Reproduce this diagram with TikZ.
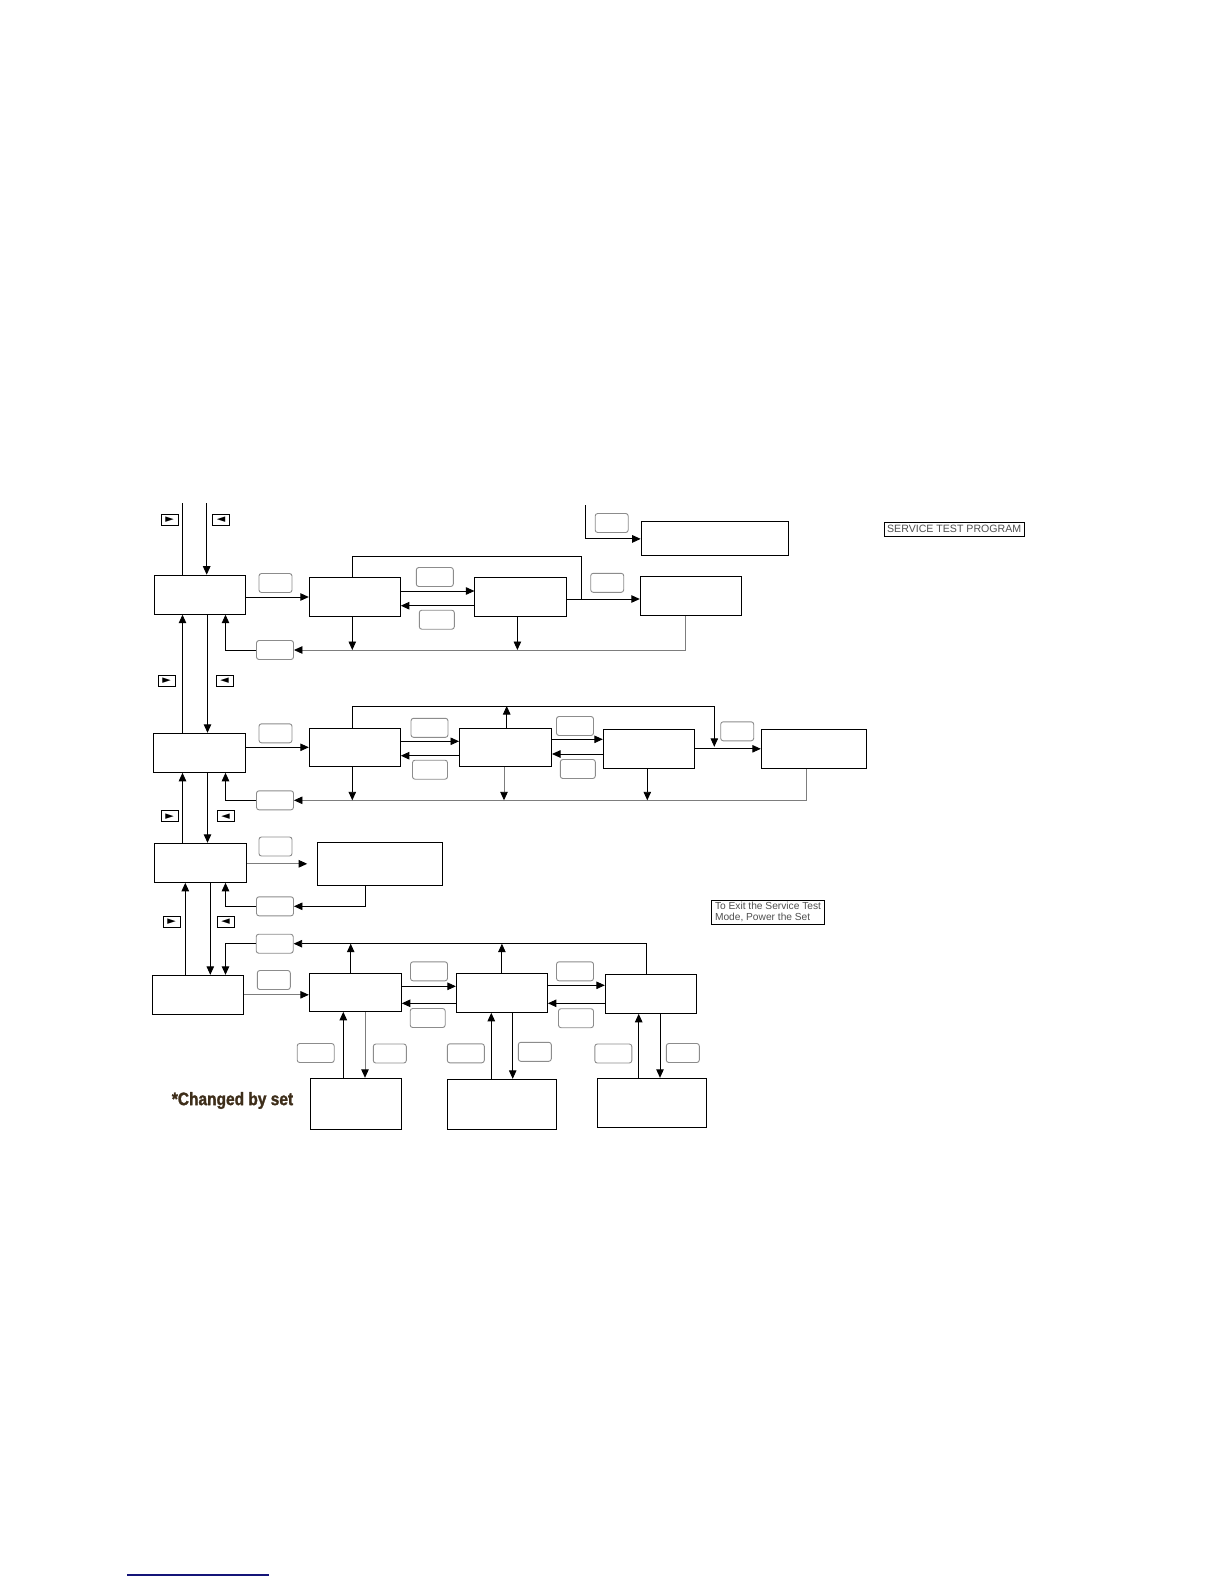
\documentclass[tikz,border=0pt]{standalone}
\usepackage{fontspec}
\setmainfont{Liberation Sans}
\newfontfamily\symfont{DejaVu Sans}
\newfontfamily\stampfont[FakeStretch=0.86,FakeBold=1.5]{Liberation Sans}
\usetikzlibrary{arrows.meta,positioning,calc}
\definecolor{keygray}{RGB}{140,140,140}
\definecolor{linegray}{RGB}{125,125,125}
\definecolor{notegray}{RGB}{80,80,80}
\definecolor{stampbrown}{RGB}{62,46,26}
\definecolor{rulenavy}{RGB}{20,20,120}

\begin{document}
\begin{tikzpicture}[x=1pt,y=-1pt,
  screen/.style={draw=black,line width=1pt,minimum width=91pt,minimum height=39pt,inner sep=0pt},
  keycap/.style={draw=keygray,line width=0.9pt,rounded corners=2.5pt,
                 minimum width=35pt,minimum height=19pt,inner sep=0pt},
  navkey/.style={draw=black,line width=0.9pt,minimum width=17pt,minimum height=11pt,
                 inner sep=0pt,font=\symfont\fontsize{11}{11}\selectfont},
  arr/.style={-{Triangle[length=8.5pt,width=7.5pt]},line width=0.9pt},
  plain/.style={line width=0.9pt},
  grayarr/.style={-{Triangle[length=8.5pt,width=7.5pt,color=black]},draw=linegray,line width=0.9pt},
  grayline/.style={draw=linegray,line width=0.9pt}
]
\fill[white] (0,0) rectangle (1224,1584);
\useasboundingbox (0,0) rectangle (1224,1584);

% screens
\node[screen] (a1) at (199.5,594.7) {};
\node[screen] (b1) at (354.8,597) {};
\node[screen,minimum width=92pt] (c1) at (520.9,597) {};
\node[screen,minimum width=101pt,minimum height=38.5pt] (d1) at (690.8,596) {};
\node[screen,minimum width=147pt,minimum height=34pt] (e1) at (714.7,538.9) {};

\node[screen,minimum width=92pt] (a2) at (199.5,752.8) {};
\node[screen,minimum height=38pt] (b2) at (354.8,747.3) {};
\node[screen,minimum width=92pt,minimum height=38pt] (c2) at (505.5,747.3) {};
\node[screen] (d2) at (648.8,748.8) {};
\node[screen,minimum width=105pt] (e2) at (813.8,748.8) {};

\node[screen,minimum width=92pt] (a3) at (200.5,862.8) {};
\node[screen,minimum width=125pt,minimum height=43pt] (b3) at (379.8,863.8) {};

\node[screen] (a4) at (197.8,994.8) {};
\node[screen,minimum width=92pt,minimum height=38pt] (b4) at (355.3,992.3) {};
\node[screen] (c4) at (501.9,992.8) {};
\node[screen] (d4) at (650.8,993.8) {};
\node[screen,minimum height=51pt] (f4) at (355.8,1103.8) {};
\node[screen,minimum width=109pt,minimum height=50pt] (g4) at (502,1104.3) {};
\node[screen,minimum width=109pt,minimum height=49pt] (h4) at (651.8,1102.8) {};

% keys
\node[keycap,minimum width=33pt] (k1in) at (275.5,583) {};
\node[keycap,minimum width=37pt] (k1fw) at (434.8,577) {};
\node[keycap] (k1bk) at (436.8,619.7) {};
\node[keycap,minimum width=33pt] (k1nx) at (607.2,582.8) {};
\node[keycap,minimum width=37pt] (k1rt) at (275,650) {};
\node[keycap,minimum width=33pt] (k1ex) at (611.7,523) {};

\node[keycap,minimum width=33pt] (k2in) at (275.5,733.3) {};
\node[keycap,minimum width=37pt] (k2fw) at (429.5,727.8) {};
\node[keycap] (k2bk) at (430,769.7) {};
\node[keycap,minimum width=37pt] (k2fwb) at (575,726) {};
\node[keycap] (k2bkb) at (577.8,769) {};
\node[keycap,minimum width=33pt] (k2nx) at (737.2,731.3) {};
\node[keycap,minimum width=37pt] (k2rt) at (275,800.3) {};

\node[keycap,minimum width=33pt] (k3in) at (275.5,846.5) {};
\node[keycap,minimum width=37pt] (k3rt) at (275,906.3) {};

\node[keycap,minimum width=37pt] (k4rt) at (274.7,943.7) {};
\node[keycap,minimum width=33pt] (k4in) at (273.8,980) {};
\node[keycap,minimum width=37pt] (k4fw) at (429,971.3) {};
\node[keycap] (k4bk) at (427.7,1018) {};
\node[keycap,minimum width=37pt] (k4fwb) at (575,971.3) {};
\node[keycap] (k4bkb) at (576,1018.2) {};
\node[keycap,minimum width=37pt] (k4upa) at (315.7,1053) {};
\node[keycap,minimum width=33pt] (k4dna) at (389.8,1053.5) {};
\node[keycap,minimum width=37pt] (k4upb) at (465.8,1053.3) {};
\node[keycap,minimum width=33pt] (k4dnb) at (534.8,1051.8) {};
\node[keycap,minimum width=37pt] (k4upc) at (613.3,1053.5) {};
\node[keycap,minimum width=33pt] (k4dnc) at (682.8,1053) {};

% left/right keys
\node[navkey] (nr0) at (169.5,519.5) {►};
\node[navkey] (nl0) at (221,519.5) {◄};
\node[navkey] (nr1) at (166.7,680.5) {►};
\node[navkey] (nl1) at (224.7,680.5) {◄};
\node[navkey] (nr2) at (169.5,816.3) {►};
\node[navkey] (nl2) at (225.5,816.3) {◄};
\node[navkey] (nr3) at (171.5,921.5) {►};
\node[navkey] (nl3) at (225.5,921.5) {◄};

% notes
\node[draw=black,line width=0.6pt,minimum width=140.3pt,minimum height=14.3pt,inner sep=0pt,
      text=notegray,font=\fontsize{10.6}{11}\selectfont] (title) at (954.2,529.2)
  {SERVICE TEST PROGRAM};
\node[draw=black,line width=0.6pt,minimum width=112.6pt,minimum height=24.3pt,inner sep=1pt,
      align=left,text=notegray,font=\fontsize{10.2}{11}\selectfont] (exitnote) at (768,912.2)
  {To Exit the Service Test\\Mode, Power the Set};
\node[text=stampbrown,inner sep=0pt,font=\stampfont\bfseries\fontsize{18}{18}\selectfont]
  (stamp) at (232.5,1100.5) {*Changed by set};

% lanes
\coordinate (lu) at (182.5,0);
\coordinate (ld) at (207.5,0);
\coordinate (lu4) at (185.3,0);
\coordinate (ld4) at (210.3,0);
\coordinate (lr) at (225.5,0);
\coordinate (entryup) at (182.5,503);
\coordinate (entrydn) at (206.7,503);
\coordinate (e1feed) at (585.7,505);
\coordinate (loop1) at (581.7,556);
\coordinate (j1) at (581.7,599);
\coordinate (loop2) at (714.3,706);

% main column
\draw[plain] (a1.north -| lu) -- (entryup);
\draw[arr] (entrydn) -- (a1.north -| entrydn);
\draw[arr] (a2.north -| lu) -- (a1.south -| lu);
\draw[arr] (a1.south -| ld) -- (a2.north -| ld);
\draw[arr] (a3.north -| lu) -- (a2.south -| lu);
\draw[arr] (a2.south -| ld) -- (a3.north -| ld);
\draw[arr] (a4.north -| lu4) -- (a3.south -| lu4);
\draw[arr] (a3.south -| ld4) -- (a4.north -| ld4);

% row 1
\draw[arr] (a1.east |- b1.west) -- (b1.west);
\draw[arr] ([yshift=6pt]b1.east) -- ([yshift=6pt]b1.east -| c1.west);
\draw[arr] ([yshift=-8.7pt]c1.west) -- ([yshift=-8.7pt]c1.west -| b1.east);
\draw[arr] (c1.east |- j1) -- (d1.west |- j1);
\draw[plain] ([xshift=-2.5pt]b1.north) |- (loop1) -- (j1);
\draw[arr] (e1feed) |- (e1.west);
\draw[grayarr] ([xshift=-5.8pt]d1.south) |- (k1rt.east);
\draw[arr] (k1rt.west) -| (a1.south -| lr);
\draw[arr] ([xshift=-2.5pt]b1.south) -- ([xshift=-2.5pt]b1.south |- k1rt.east);
\draw[arr] ([xshift=-3.5pt]c1.south) -- ([xshift=-3.5pt]c1.south |- k1rt.east);

% row 2
\draw[arr] (a2.east |- b2.west) -- (b2.west);
\draw[arr] ([yshift=6pt]b2.east) -- ([yshift=6pt]b2.east -| c2.west);
\draw[arr] ([yshift=-8.4pt]c2.west) -- ([yshift=-8.4pt]c2.west -| b2.east);
\draw[arr] ([yshift=8pt]c2.east) -- ([yshift=8pt]c2.east -| d2.west);
\draw[arr] ([yshift=-5.2pt]d2.west) -- ([yshift=-5.2pt]d2.west -| c2.east);
\draw[arr] (d2) -- (e2);
\draw[arr,shorten >=2pt] ([xshift=-2.5pt]b2.north) |- (loop2) -- (loop2 |- d2.east);
\draw[arr] ([xshift=1.2pt]c2.north) -- ([xshift=1.2pt]c2.north |- loop2);
\draw[grayarr] ([xshift=-7.5pt]e2.south) |- (k2rt.east);
\draw[arr] (k2rt.west) -| (a2.south -| lr);
\draw[arr] ([xshift=-2.5pt]b2.south) -- ([xshift=-2.5pt]b2.south |- k2rt.east);
\draw[grayarr] ([xshift=-1.5pt]c2.south) -- ([xshift=-1.5pt]c2.south |- k2rt.east);
\draw[arr] ([xshift=-1.5pt]d2.south) -- ([xshift=-1.5pt]d2.south |- k2rt.east);

% row 3
\draw[grayarr] (a3.east |- b3.west) -- ([xshift=-9.6pt]b3.west);
\draw[arr] ([xshift=-14pt]b3.south) |- (k3rt.east);
\draw[arr] (k3rt.west) -| (a3.south -| lr);

% row 4
\draw[arr] ([xshift=-4pt]d4.north) |- (k4rt.east);
\draw[arr] (k4rt.west) -| (a4.north -| lr);
\draw[arr] ([xshift=-4.6pt]b4.north) -- ([xshift=-4.6pt]b4.north |- k4rt.east);
\draw[arr] (c4.north) -- (c4.north |- k4rt.east);
\draw[grayarr] (a4.east) -- (a4.east -| b4.west);
\draw[arr] ([yshift=6pt]b4.east) -- ([yshift=6pt]b4.east -| c4.west);
\draw[arr] ([yshift=-10.5pt]c4.west) -- ([yshift=-10.5pt]c4.west -| b4.east);
\draw[arr] ([yshift=7.5pt]c4.east) -- ([yshift=7.5pt]c4.east -| d4.west);
\draw[arr] ([yshift=-9.5pt]d4.west) -- ([yshift=-9.5pt]d4.west -| c4.east);
\draw[arr] ([xshift=-12.5pt]f4.north) -- ([xshift=-12.5pt]f4.north |- b4.south);
\draw[grayarr] ([xshift=9.2pt]f4.north |- b4.south) -- ([xshift=9.2pt]f4.north);
\draw[arr] ([xshift=-10.7pt]g4.north) -- ([xshift=-10.7pt]g4.north |- c4.south);
\draw[arr] ([xshift=10.7pt]g4.north |- c4.south) -- ([xshift=10.7pt]g4.north);
\draw[arr] ([xshift=-13.1pt]h4.north) -- ([xshift=-13.1pt]h4.north |- d4.south);
\draw[arr] ([xshift=8.2pt]h4.north |- d4.south) -- ([xshift=8.2pt]h4.north);

% footer rule
\draw[rulenavy,line width=1.2pt] (127,1575) -- (269,1575);
\end{tikzpicture}
\end{document}
